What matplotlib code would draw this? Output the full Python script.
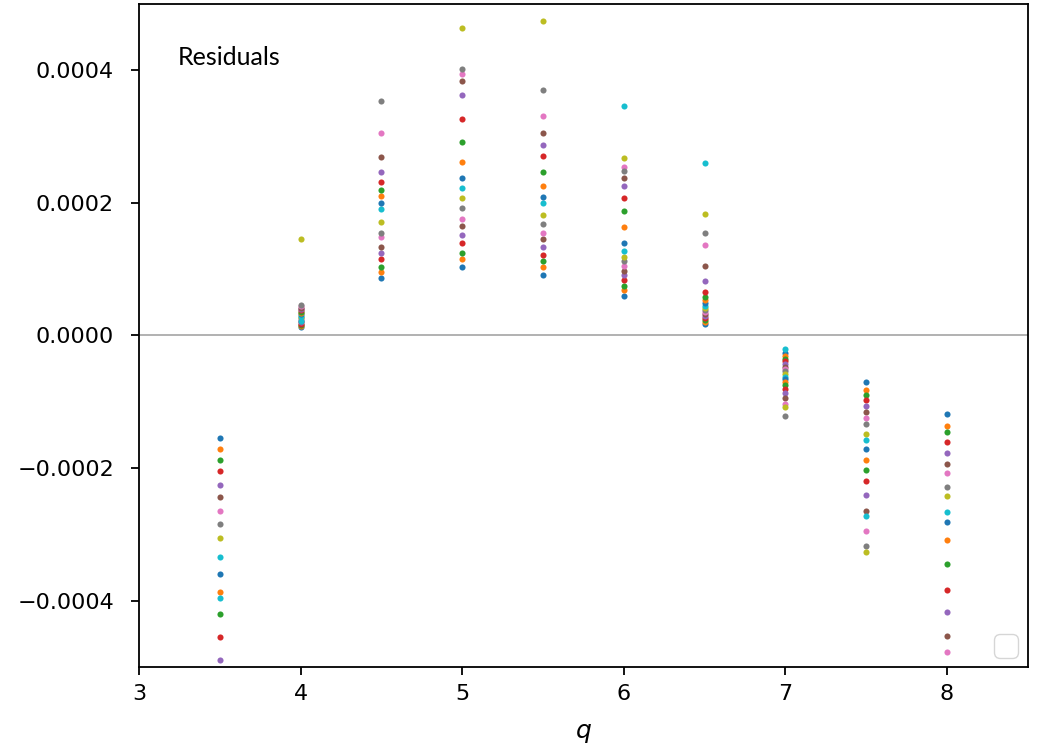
import numpy as np
import matplotlib
matplotlib.use('Agg')
import matplotlib.pyplot as plt

nan = np.nan
q = [3.5, 4.0, 4.5, 5.0, 5.5, 6.0, 6.5, 7.0, 7.5, 8.0]

# residuals per series (one value per q), nan = not visible
s0 = [-0.000155, 0.000013, 0.000086, 0.000103, 0.000091, 0.000060, 0.000017, -0.000027, -0.0000694, -0.000119]
s1 = [-0.000171, 0.000014, 0.000095, 0.000115, 0.000103, 0.000068, 0.000020, -0.000031, -0.0000815, -0.000136]
s2 = [-0.000187, 0.000016, 0.000103, 0.000125, 0.000112, 0.000075, 0.000023, -0.000035, -0.000089, -0.000146]
s3 = [-0.000205, 0.000018, 0.000116, 0.000139, 0.000122, 0.000083, 0.000026, -0.000039, -0.000098, -0.000160]
s4 = [-0.000225, 0.000020, 0.000124, 0.000152, 0.000134, 0.000091, 0.000029, -0.000043, -0.000107, -0.000177]
s5 = [-0.000243, 0.000022, 0.000134, 0.000165, 0.000145, 0.000097, 0.000032, -0.000047, -0.000115, -0.000193]
s6 = [-0.000264, 0.000024, 0.000148, 0.000175, 0.000155, 0.000104, 0.000035, -0.000050, -0.000124, -0.000208]
s7 = [-0.000284, 0.000026, 0.000154, 0.000192, 0.000168, 0.000112, 0.000038, -0.000054, -0.000134, -0.000228]
s8 = [-0.000305, 0.000028, 0.000171, 0.000207, 0.000181, 0.000118, 0.000042, -0.000058, -0.000148, -0.000242]
s9 = [-0.000334, 0.000030, 0.000190, 0.000222, 0.000199, 0.000127, 0.000045, -0.000062, -0.000157, -0.000266]
s10 = [-0.000359, 0.000032, 0.000199, 0.000237, 0.000208, 0.000139, 0.000049, -0.000066, -0.000171, -0.000281]
s11 = [-0.000386, 0.000034, 0.000210, 0.000261, 0.000225, 0.000163, 0.000053, -0.000070, -0.000187, -0.000309]
s12 = [-0.000420, 0.000036, 0.000220, 0.000291, 0.000246, 0.000187, 0.000058, -0.000075, -0.000202, -0.000344]
s13 = [-0.000454, 0.000038, 0.000231, 0.000326, 0.000270, 0.000207, 0.000066, -0.000080, -0.000220, -0.000383]
s14 = [-0.000489, 0.000040, 0.000246, 0.000362, 0.000287, 0.000225, 0.000082, -0.000086, -0.000240, -0.000417]
s15 = [nan, 0.000042, 0.000269, 0.000383, 0.000305, 0.000237, 0.000104, -0.000094, -0.000264, -0.000453]
s16 = [nan, 0.000044, 0.000305, 0.000394, 0.000331, 0.000254, 0.000136, -0.000104, -0.000294, -0.000477]
s17 = [nan, 0.000046, 0.000353, 0.000401, 0.000370, 0.000248, 0.000154, -0.000122, -0.000318, nan]
s18 = [nan, 0.000145, nan, 0.000463, 0.000474, 0.000267, 0.000183, -0.000108, -0.000326, nan]
s19 = [-0.000395, 0.000022, nan, nan, nan, 0.000346, 0.000260, -0.000020, -0.000272, nan]

series = [s0, s1, s2, s3, s4, s5, s6, s7, s8, s9,
          s10, s11, s12, s13, s14, s15, s16, s17, s18, s19]

fig = plt.figure(figsize=(10.38, 7.48), dpi=100)
ax = fig.add_axes([0.134, 0.108, 0.856, 0.887])

ax.axhline(0, color='0.67', lw=1.3, zorder=1)
for s in series:
    ax.plot(q, s, 'o', ms=4.4, mew=0, zorder=2)

ax.set_xlim(3, 8.5)
ax.set_ylim(-0.0005, 0.0005)
ax.set_yticks([-0.0004, -0.0002, 0.0, 0.0002, 0.0004])
ax.set_yticklabels(['\u22120.0004', '\u22120.0002', '0.0000', '0.0002', '0.0004'])
ax.tick_params(labelsize=16, length=6, width=1.3, pad=6)
ax.tick_params(axis='y', pad=12)
for sp in ax.spines.values():
    sp.set_linewidth(1.3)

ax.set_xlabel('$q$', fontsize=18, labelpad=12)
ax.text(0.044, 0.907, 'Residuals', transform=ax.transAxes, fontsize=18,
        family='Lato')
ax.legend(loc='lower right', fontsize=22, borderaxespad=0.3)

fig.savefig('out.png', dpi=100)
